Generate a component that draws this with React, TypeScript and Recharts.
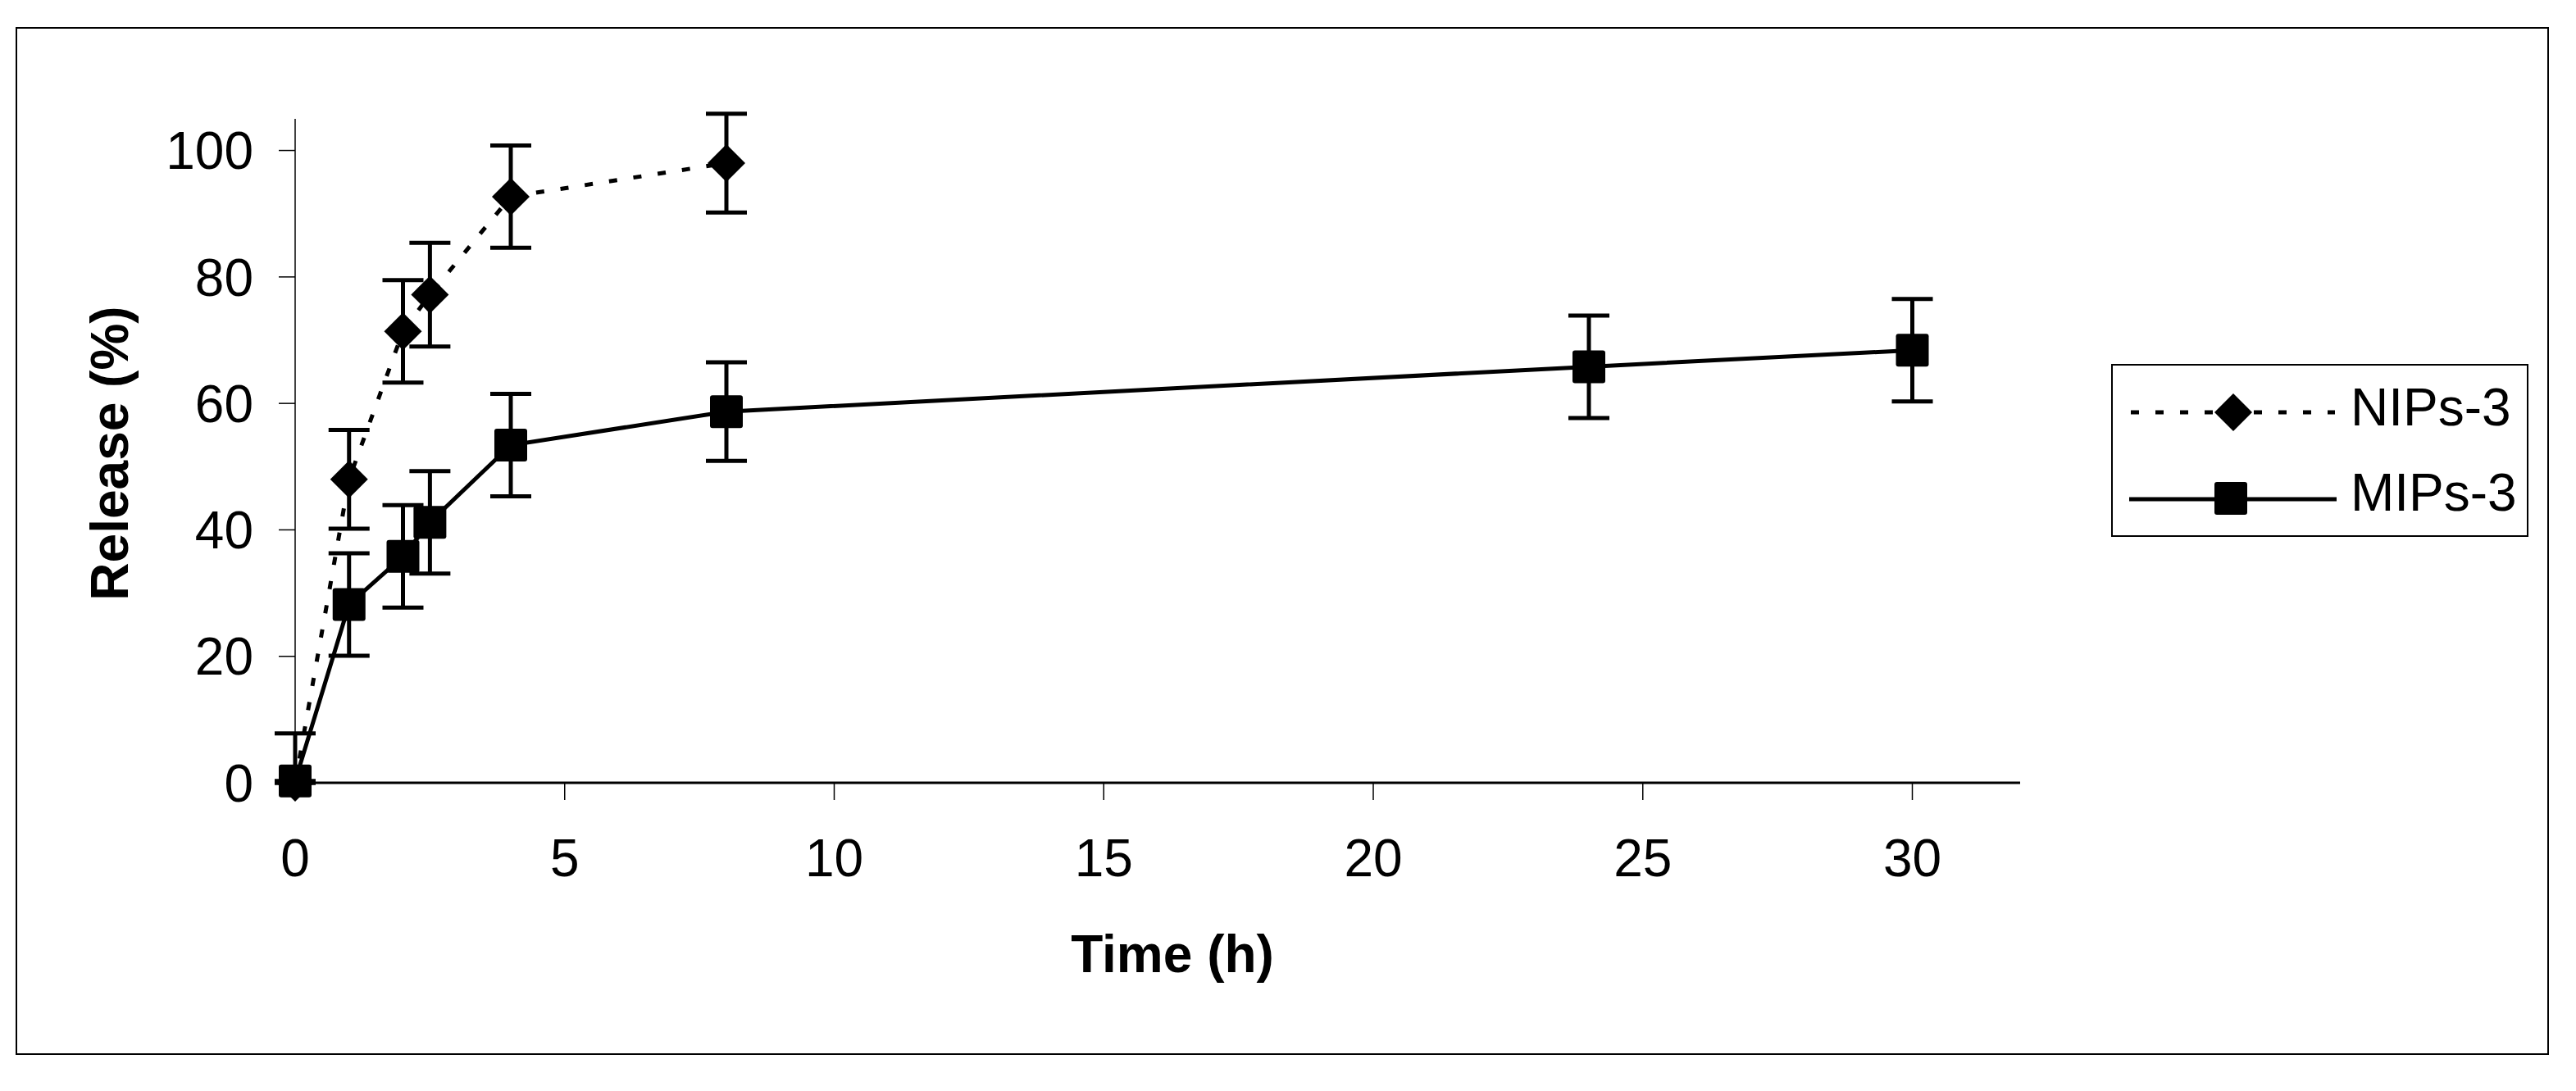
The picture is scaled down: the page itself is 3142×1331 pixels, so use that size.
import React from "react";
import { LineChart, Line, XAxis, YAxis, ErrorBar, Legend, Label } from "recharts";

// release data (time in h, release in %)
const nipsTime = [0, 1, 2, 2.5, 4, 8];
const nipsRelease = [0, 48, 71.4, 77.2, 92.7, 98];
const nipsErrorUp = [0, 7.8, 8.1, 8.2, 8.1, 7.8];
const nipsErrorDown = [0, 7.8, 8.1, 8.2, 8.1, 7.8];

const mipsTime = [0, 1, 2, 2.5, 4, 8, 24, 30];
const mipsRelease = [0.3, 28.2, 35.8, 41.2, 53.4, 58.7, 65.8, 68.4];
const mipsErrorUp = [7.5, 8.1, 8.1, 8.1, 8.1, 7.8, 8.1, 8.1];
// lower bar at t=0 falls under the axis and is not shown
const mipsErrorDown = [0, 8.1, 8.1, 8.1, 8.1, 7.8, 8.1, 8.1];

const xTicks = [0, 5, 10, 15, 20, 25, 30];
const yTicks = [0, 20, 40, 60, 80, 100];
const seriesNames = ["NIPs-3", "MIPs-3"];

const FONT = "'Liberation Sans', Arial, sans-serif";

const nipsData = nipsTime.map((t, i) => ({ t, release: nipsRelease[i], err: [nipsErrorDown[i], nipsErrorUp[i]] }));
const mipsData = mipsTime.map((t, i) => ({ t, release: mipsRelease[i], err: [mipsErrorDown[i], mipsErrorUp[i]] }));

const diamondPath = (cx: number, cy: number, r: number) =>
    `M${cx},${cy - r}L${cx + r},${cy}L${cx},${cy + r}L${cx - r},${cy}Z`;

const renderDiamond = (props: any) => {
    const { cx, cy, index } = props;
    if (cx == null || cy == null) return <g key={`d-${index}`} />;
    return <path key={`d-${index}`} d={diamondPath(cx, cy, 23)} fill="#000" />;
};

const renderSquare = (props: any) => {
    const { cx, cy, index } = props;
    if (cx == null || cy == null) return <g key={`s-${index}`} />;
    return <rect key={`s-${index}`} x={cx - 20} y={cy - 20} width={40} height={40} rx={3} fill="#000" />;
};

const renderXTitle = (props: any) => {
    const { x, y, width } = props.viewBox;
    return (
        <text x={x + width / 2 + 18} y={y + 231} textAnchor="middle" fontFamily={FONT} fontWeight="bold" fontSize={64} fill="#000">
            Time (h)
        </text>
    );
};

const renderYTitle = (props: any) => {
    const { x, y, height } = props.viewBox;
    const tx = x - 104;
    const ty = y + height / 2 + 3;
    return (
        <text x={tx} y={ty} transform={`rotate(-90, ${tx}, ${ty})`} textAnchor="middle" fontFamily={FONT} fontWeight="bold" fontSize={64} fill="#000">
            Release (%)
        </text>
    );
};

const renderLegend = () => (
    <svg width={509} height={211} style={{ display: "block" }}>
        <rect x={1} y={1} width={507} height={209} fill="#fff" stroke="#000" strokeWidth={2} />
        <line x1={24} y1={59} x2={273} y2={59} stroke="#000" strokeWidth={5} strokeDasharray="10 20" />
        <path d={diamondPath(149, 59, 23)} fill="#000" />
        <text x={292} y={75} fontFamily={FONT} fontSize={64} fill="#000">{seriesNames[0]}</text>
        <line x1={22} y1={165} x2={275} y2={165} stroke="#000" strokeWidth={5} />
        <rect x={126} y={144} width={40} height={40} rx={3} fill="#000" />
        <text x={292} y={179} fontFamily={FONT} fontSize={64} fill="#000">{seriesNames[1]}</text>
    </svg>
);

export default function App() {
    return (
        <div style={{ position: "relative", width: 3142, height: 1331, overflow: "hidden", background: "#fff" }}>
            <style>{"body{margin:0} .recharts-surface [clip-path]{clip-path:none !important}"}</style>
            <div
                style={{
                    position: "absolute",
                    left: 19,
                    top: 33,
                    width: 3090,
                    height: 1254,
                    border: "2px solid #000",
                    boxSizing: "border-box",
                }}
            />
            <div style={{ position: "absolute", left: 0, top: 0 }}>
                <LineChart width={3142} height={1331} margin={{ top: 145, right: 678, bottom: 276, left: 260 }}>
                    <XAxis
                        type="number"
                        dataKey="t"
                        domain={[0, 32]}
                        ticks={xTicks}
                        interval={0}
                        height={100}
                        tickSize={21}
                        tickMargin={48}
                        axisLine={{ stroke: "#000", strokeWidth: 3 }}
                        tickLine={{ stroke: "#000", strokeWidth: 1.5 }}
                        tick={{ fill: "#000", fontSize: 64, fontFamily: FONT }}
                        label={<Label content={renderXTitle} />}
                    />
                    <YAxis
                        type="number"
                        domain={[0, 105]}
                        allowDataOverflow
                        ticks={yTicks}
                        interval={0}
                        width={100}
                        tickSize={20}
                        tickMargin={31}
                        axisLine={{ stroke: "#000", strokeWidth: 1.5 }}
                        tickLine={{ stroke: "#000", strokeWidth: 1.5 }}
                        tick={{ fill: "#000", fontSize: 64, fontFamily: FONT }}
                        label={<Label content={renderYTitle} />}
                    />
                    <Legend
                        layout="vertical"
                        align="center"
                        verticalAlign="middle"
                        content={renderLegend}
                        wrapperStyle={{ left: 2575, top: 444, width: 509, height: 211 }}
                    />
                    <Line
                        data={nipsData}
                        dataKey="release"
                        name={seriesNames[0]}
                        type="linear"
                        stroke="#000"
                        strokeWidth={5}
                        strokeDasharray="10 20"
                        dot={renderDiamond}
                        activeDot={false}
                        isAnimationActive={false}
                    >
                        <ErrorBar dataKey="err" direction="y" width={25} stroke="#000" strokeWidth={5} />
                    </Line>
                    <Line
                        data={mipsData}
                        dataKey="release"
                        name={seriesNames[1]}
                        type="linear"
                        stroke="#000"
                        strokeWidth={5}
                        dot={renderSquare}
                        activeDot={false}
                        isAnimationActive={false}
                    >
                        <ErrorBar dataKey="err" direction="y" width={25} stroke="#000" strokeWidth={5} />
                    </Line>
                </LineChart>
            </div>
        </div>
    );
}
